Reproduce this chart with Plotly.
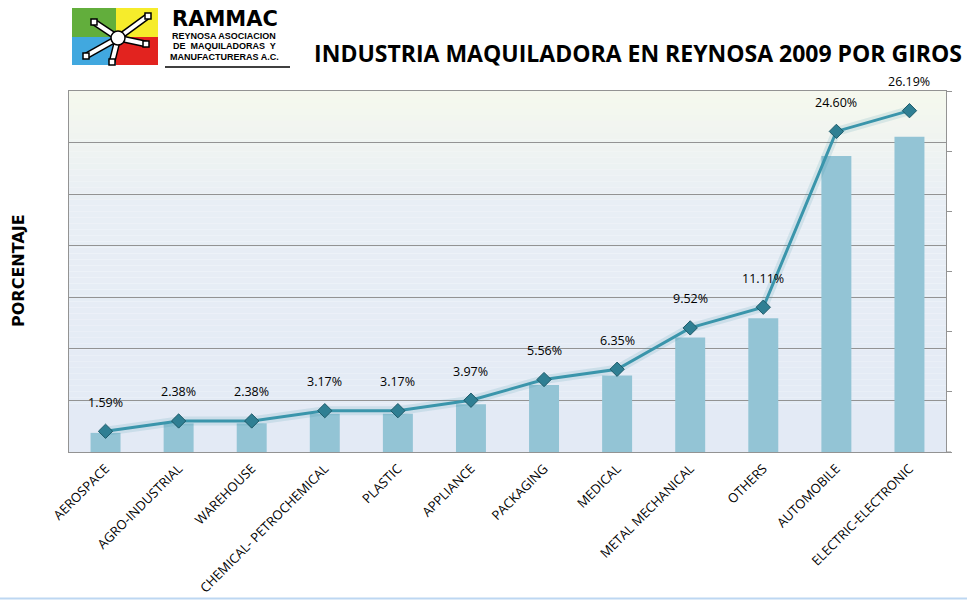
import plotly.graph_objects as go

categories = ["AEROSPACE", "AGRO-INDUSTRIAL", "WAREHOUSE", "CHEMICAL- PETROCHEMICAL",
              "PLASTIC", "APPLIANCE", "PACKAGING", "MEDICAL", "METAL MECHANICAL",
              "OTHERS", "AUTOMOBILE", "ELECTRIC-ELECTRONIC"]
percent = [1.59, 2.38, 2.38, 3.17, 3.17, 3.97, 5.56, 6.35, 9.52, 11.11, 24.60, 26.19]

W, H = 967, 600
L, R, T, B = 69, 946, 91, 452

def px(x):
    return (x - L) / (R - L)

def py(y):
    return (B - y) / (B - T)

BAR_COLOR = "#93C4D5"
LINE_COLOR = "#3A95AB"
GRID = "#939393"

fig = go.Figure()
fig.add_trace(go.Bar(x=categories, y=percent, marker=dict(color=BAR_COLOR, line=dict(width=0)),
                     yaxis="y", hoverinfo="skip"))
fig.add_trace(go.Scatter(x=categories, y=percent, yaxis="y2", mode="lines",
                         line=dict(color="rgba(58,149,171,0.15)", width=9), hoverinfo="skip"))
fig.add_trace(go.Scatter(x=categories, y=percent, yaxis="y2", mode="lines+markers",
                         line=dict(color=LINE_COLOR, width=3),
                         marker=dict(symbol="diamond", size=11, color="#2F7F93",
                                     line=dict(color="#1D5A69", width=1))))

shapes = []
# plot background gradient
n = 60
top = (246, 249, 238)
mid = (233, 239, 245)
bot = (227, 234, 246)
for i in range(n):
    t = (i + 0.5) / n  # 0 top -> 1 bottom
    if t < 0.3:
        f = t / 0.3
        c = tuple(int(top[k] + (mid[k] - top[k]) * f) for k in range(3))
    else:
        f = (t - 0.3) / 0.7
        c = tuple(int(mid[k] + (bot[k] - mid[k]) * f) for k in range(3))
    shapes.append(dict(type="rect", xref="paper", yref="paper", x0=0, x1=1,
                       y0=1 - (i + 1) / n, y1=1 - i / n, fillcolor="rgb(%d,%d,%d)" % c,
                       line=dict(width=0), layer="below"))

# logo quadrants
lx0, lx1, ly0, ly1, cx, cy = 72, 158, 8, 65, 116, 37
for (xa, xb, ya, yb, col) in [(lx0, cx, ly0, cy, "#62AE3C"), (cx, lx1, ly0, cy, "#F6EC2B"),
                              (lx0, cx, cy, ly1, "#41A8DF"), (cx, lx1, cy, ly1, "#E2231F")]:
    shapes.append(dict(type="rect", xref="paper", yref="paper", x0=px(xa), x1=px(xb),
                       y0=py(yb), y1=py(ya), fillcolor=col, line=dict(width=0)))
arms = [(118, 38, 94, 22), (118, 38, 148, 16), (118, 38, 86, 56), (118, 38, 146, 44), (118, 38, 112, 62)]
for wcol, wid in [("black", 7), ("white", 4)]:
    for (a, b, c2, d) in arms:
        shapes.append(dict(type="line", xref="paper", yref="paper", x0=px(a), y0=py(b),
                           x1=px(c2), y1=py(d), line=dict(color=wcol, width=wid)))
for (a, b, c2, d) in arms:
    shapes.append(dict(type="rect", xref="paper", yref="paper", x0=px(c2 - 3), x1=px(c2 + 3),
                       y0=py(d + 3), y1=py(d - 3), fillcolor="white", line=dict(color="black", width=1.5)))
shapes.append(dict(type="circle", xref="paper", yref="paper", x0=px(111), x1=px(125),
                   y0=py(45), y1=py(31), fillcolor="white", line=dict(color="black", width=1.5)))
# logo underline
shapes.append(dict(type="line", xref="paper", yref="paper", x0=px(165), x1=px(290),
                   y0=py(67), y1=py(67), line=dict(color="black", width=1.5)))
# bottom blue line
shapes.append(dict(type="line", xref="paper", yref="paper", x0=px(0), x1=px(W),
                   y0=py(598.5), y1=py(598.5), line=dict(color="#BDD7F2", width=2)))
# extension of bottom line past right axis
shapes.append(dict(type="line", xref="paper", yref="paper", x0=1, x1=px(951),
                   y0=0, y1=0, line=dict(color=GRID, width=1)))

annotations = []
for c, v in zip(categories, percent):
    annotations.append(dict(x=c, y=v, xref="x", yref="y2", text=f"{v:.2f}%", showarrow=False,
                            yshift=29, xanchor="center", yanchor="middle",
                            font=dict(family="Open Sans", size=12.5, color="black")))
annotations.append(dict(x=px(18), y=py(271), xref="paper", yref="paper", text="<b>PORCENTAJE</b>",
                        textangle=-90, showarrow=False, xanchor="center", yanchor="middle",
                        font=dict(family="DejaVu Sans", size=16, color="black")))
annotations.append(dict(x=px(225), y=py(18.5), xref="paper", yref="paper", text="<b>RAMMAC</b>",
                        showarrow=False, xanchor="center", yanchor="middle", borderpad=0,
                        font=dict(family="DejaVu Sans", size=21, color="black")))
for txt, yy in [("REYNOSA ASOCIACION", 35.5), ("DE  MAQUILADORAS  Y", 46), ("MANUFACTURERAS A.C.", 57)]:
    annotations.append(dict(x=px(224), y=py(yy), xref="paper", yref="paper", text=f"<b>{txt}</b>",
                            showarrow=False, xanchor="center", yanchor="middle", borderpad=0,
                            font=dict(family="Liberation Sans", size=9, color="black")))

n_left = 7
left_max = 30.0
n_right = 6
right_max = 27.7

fig.update_layout(
    width=W, height=H,
    margin=dict(l=L, r=W - R, t=T, b=H - B, autoexpand=False),
    paper_bgcolor="white",
    plot_bgcolor="rgba(0,0,0,0)",
    showlegend=False,
    bargap=0.59,
    title=dict(text="<b>INDUSTRIA MAQUILADORA EN REYNOSA 2009 POR GIROS</b>",
               x=638 / W, y=1 - 54 / H, xref="container", yref="container",
               xanchor="center", yanchor="middle",
               font=dict(family="Open Sans", size=23, color="black")),
    xaxis=dict(tickangle=-45, showline=True, linecolor=GRID, mirror=True, ticks="",
               range=[-0.5, len(categories) - 0.5], automargin=False, ticklabelstandoff=3,
               showgrid=False, tickfont=dict(family="Open Sans", size=13, color="black")),
    yaxis=dict(range=[0, left_max], tickvals=[left_max * k / n_left for k in range(n_left + 1)],
               showticklabels=False, showgrid=True, gridcolor=GRID, gridwidth=1, automargin=False,
               showline=True, linecolor=GRID, zeroline=False, ticks=""),
    yaxis2=dict(range=[0, right_max], overlaying="y", side="right", automargin=False,
                tickvals=[right_max * k / n_right for k in range(n_right + 1)],
                showticklabels=False, showgrid=False, showline=True, linecolor=GRID,
                ticks="outside", ticklen=5, tickcolor=GRID, zeroline=False),
    shapes=shapes,
    annotations=annotations,
)

fig.write_html("out.html")
